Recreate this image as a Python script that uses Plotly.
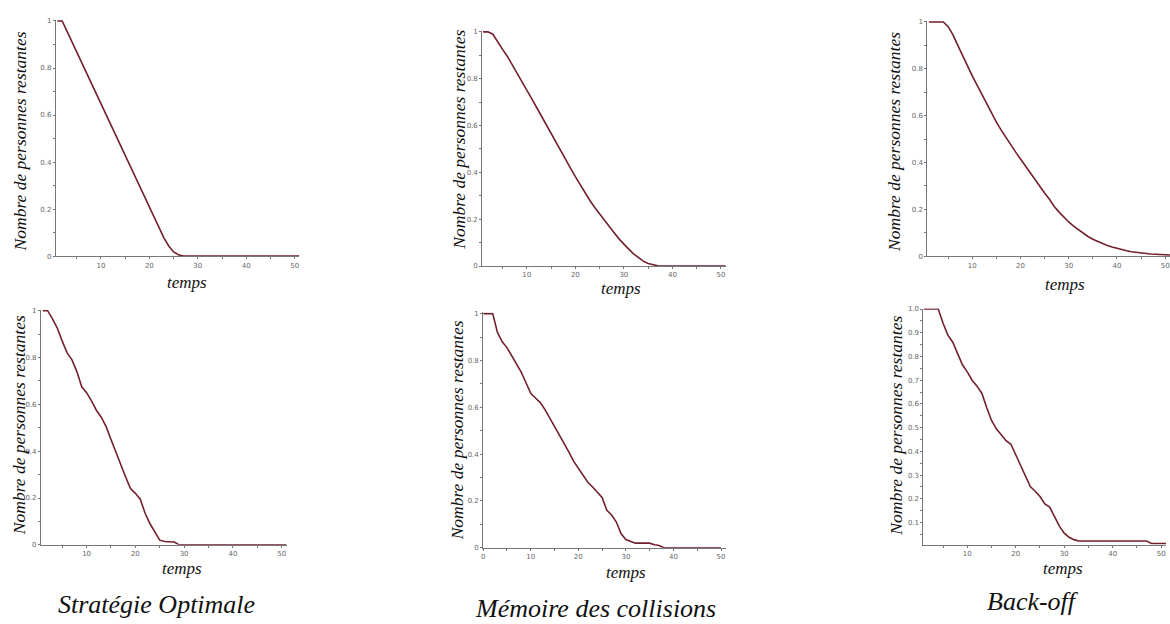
import plotly.graph_objects as go

# time steps
t_1_51 = list(range(1, 52))
t_0_50 = list(range(0, 51))

# remaining fraction of people — averaged runs (top row)
opt_avg = [1, 1, 0.956, 0.912, 0.868, 0.824, 0.780, 0.735, 0.691, 0.647, 0.603,
           0.559, 0.515, 0.471, 0.427, 0.383, 0.339, 0.294, 0.250, 0.206, 0.162,
           0.118, 0.078, 0.043, 0.018, 0.006, 0, 0, 0, 0, 0,
           0, 0, 0, 0, 0, 0, 0, 0, 0, 0,
           0, 0, 0, 0, 0, 0, 0, 0, 0, 0]
mem_avg = [1, 1, 0.99, 0.955, 0.925, 0.895, 0.86, 0.825, 0.79, 0.752, 0.715,
           0.678, 0.64, 0.603, 0.567, 0.53, 0.49, 0.455, 0.418, 0.382, 0.347,
           0.313, 0.28, 0.25, 0.222, 0.195, 0.168, 0.142, 0.116, 0.093, 0.072,
           0.052, 0.035, 0.021, 0.011, 0.005, 0.001, 0, 0, 0, 0,
           0, 0, 0, 0, 0, 0, 0, 0, 0, 0]
bo_avg = [1, 1, 1, 1, 0.98, 0.945, 0.9, 0.855, 0.81, 0.77, 0.73,
          0.69, 0.65, 0.61, 0.572, 0.538, 0.505, 0.474, 0.444, 0.415, 0.385,
          0.356, 0.327, 0.299, 0.27, 0.243, 0.212, 0.188, 0.166, 0.146, 0.128,
          0.112, 0.097, 0.084, 0.072, 0.062, 0.053, 0.045, 0.039, 0.033, 0.028,
          0.023, 0.019, 0.016, 0.013, 0.011, 0.009, 0.008, 0.007, 0.006, 0.005]

# remaining fraction of people — single run (bottom row)
opt_run = [1, 1, 0.965, 0.925, 0.87, 0.82, 0.79, 0.74, 0.675, 0.65, 0.615,
           0.575, 0.545, 0.505, 0.45, 0.395, 0.34, 0.29, 0.24, 0.22, 0.195,
           0.135, 0.09, 0.055, 0.02, 0.014, 0.014, 0.012, 0, 0, 0,
           0, 0, 0, 0, 0, 0, 0, 0, 0, 0,
           0, 0, 0, 0, 0, 0, 0, 0, 0, 0]
mem_run = [1, 1, 1, 0.92, 0.88, 0.855, 0.82, 0.785, 0.75, 0.705, 0.66,
           0.64, 0.62, 0.59, 0.555, 0.52, 0.485, 0.45, 0.41, 0.37, 0.34,
           0.31, 0.28, 0.26, 0.235, 0.215, 0.16, 0.14, 0.11, 0.06, 0.035,
           0.027, 0.02, 0.02, 0.02, 0.02, 0.013, 0.01, 0, 0, 0,
           0, 0, 0, 0, 0, 0, 0, 0, 0, 0]
bo_run = [1, 1, 1, 1, 0.94, 0.89, 0.86, 0.815, 0.765, 0.735, 0.7,
          0.675, 0.645, 0.585, 0.53, 0.495, 0.47, 0.445, 0.43, 0.385, 0.34,
          0.295, 0.252, 0.232, 0.21, 0.178, 0.165, 0.125, 0.085, 0.055, 0.038,
          0.028, 0.022, 0.022, 0.022, 0.022, 0.022, 0.022, 0.022, 0.022, 0.022,
          0.022, 0.022, 0.022, 0.022, 0.022, 0.022, 0.012, 0.012, 0.012, 0.012]

x_ticks = [10, 20, 30, 40, 50]
x_ticklabels = ["10", "20", "30", "40", "50"]
x_ticks_zero = [0, 10, 20, 30, 40, 50]
x_ticklabels_zero = ["0", "10", "20", "30", "40", "50"]
y_ticks = [0, 0.2, 0.4, 0.6, 0.8, 1]
y_ticklabels = ["0", "0.2", "0.4", "0.6", "0.8", "1"]
y_ticks_fine = [0.1, 0.2, 0.3, 0.4, 0.5, 0.6, 0.7, 0.8, 0.9, 1.0]
y_ticklabels_fine = ["0.1", "0.2", "0.3", "0.4", "0.5", "0.6", "0.7", "0.8", "0.9", "1.0"]

titles = ["Stratégie Optimale", "Mémoire des collisions", "Back-off"]
y_title = "Nombre de personnes restantes"
x_title = "temps"

W, H = 1170, 624
LINE = "#72202c"
AXIS = "#777777"
SERIF = "Liberation Serif, DejaVu Serif, serif"

# panel boxes in pixels: left, right, top, bottom
panels = [
    dict(x=t_1_51, y=opt_avg, box=(54, 298, 17, 256), xr=[0.7, 51], yr=[0, 1.005],
         xt=(x_ticks, x_ticklabels), yt=(y_ticks, y_ticklabels),
         ytitle=(18, 140), xtitle=(185, 283)),
    dict(x=t_1_51, y=mem_avg, box=(481, 725, 28, 266), xr=[0.8, 51], yr=[0, 1.005],
         xt=(x_ticks, x_ticklabels), yt=(y_ticks, y_ticklabels),
         ytitle=(458, 138), xtitle=(620, 289)),
    dict(x=t_1_51, y=bo_avg, box=(927, 1170, 18, 256), xr=[0.7, 51], yr=[0, 1.005],
         xt=(x_ticks, x_ticklabels), yt=(y_ticks, y_ticklabels),
         ytitle=(894, 140), xtitle=(1065, 285)),
    dict(x=t_1_51, y=opt_run, box=(39, 285, 310, 548), xr=[0.63, 51], yr=[0, 1.005],
         xt=(x_ticks, x_ticklabels), yt=(y_ticks, y_ticklabels),
         ytitle=(17, 427), xtitle=(180, 572)),
    dict(x=t_0_50, y=mem_run, box=(482, 725, 313, 551), xr=[0, 51], yr=[0, 1.005],
         xt=(x_ticks_zero, x_ticklabels_zero), yt=(y_ticks, y_ticklabels),
         ytitle=(456, 432), xtitle=(625, 576)),
    dict(x=t_1_51, y=bo_run, box=(923, 1166, 309, 548), xr=[0.95, 51], yr=[0.006, 1.002],
         xt=(x_ticks, x_ticklabels), yt=(y_ticks_fine, y_ticklabels_fine),
         ytitle=(896, 427), xtitle=(1063, 572)),
]

fig = go.Figure()
annotations = []

for i, p in enumerate(panels, start=1):
    xa = "x" if i == 1 else f"x{i}"
    ya = "y" if i == 1 else f"y{i}"
    fig.add_trace(go.Scatter(x=p["x"], y=p["y"], mode="lines",
                             line=dict(color=LINE, width=1.6),
                             xaxis=xa, yaxis=ya, showlegend=False,
                             hoverinfo="skip"))
    l, r, t, b = p["box"]
    axis_common = dict(showline=True, linecolor=AXIS, linewidth=1,
                       showgrid=False, zeroline=False, ticks="outside",
                       ticklen=2, tickcolor=AXIS, ticklabelstandoff=0,
                       tickfont=dict(family="DejaVu Sans", size=7, color="#666666"))
    xkey = "xaxis" if i == 1 else f"xaxis{i}"
    ykey = "yaxis" if i == 1 else f"yaxis{i}"
    fig.update_layout(**{
        xkey: dict(domain=[l / W, r / W], range=p["xr"], anchor=ya,
                   tickvals=p["xt"][0], ticktext=p["xt"][1],
                   minor=dict(dtick=5, tick0=0, ticks="outside", ticklen=2,
                              tickcolor=AXIS),
                   **axis_common),
        ykey: dict(domain=[1 - b / H, 1 - t / H], range=p["yr"], anchor=xa,
                   tickvals=p["yt"][0], ticktext=p["yt"][1],
                   minor=dict(dtick=0.1 if i != 6 else 0.05, tick0=0,
                              ticks="outside", ticklen=2, tickcolor=AXIS),
                   **axis_common),
    })
    yx, yy = p["ytitle"]
    annotations.append(dict(text=f"<i>{y_title}</i>", x=yx / W, y=1 - yy / H,
                            xref="paper", yref="paper", showarrow=False,
                            textangle=-90, xanchor="center", yanchor="middle",
                            font=dict(family=SERIF, size=17.5, color="#111111")))
    tx, ty = p["xtitle"]
    annotations.append(dict(text=f"<i>{x_title}</i>", x=tx / W, y=1 - ty / H,
                            xref="paper", yref="paper", showarrow=False,
                            xanchor="center", yanchor="middle",
                            font=dict(family=SERIF, size=17, color="#111111")))

# strategy names under the bottom row
for name, (cx, cy) in zip(titles, [(155, 608), (595, 612), (1033, 605)]):
    annotations.append(dict(text=f"<i>{name}</i>", x=cx / W, y=1 - cy / H,
                            xref="paper", yref="paper", showarrow=False,
                            xanchor="center", yanchor="middle",
                            font=dict(family=SERIF, size=26, color="#111111")))

fig.update_layout(width=W, height=H, margin=dict(l=0, r=0, t=0, b=0),
                  paper_bgcolor="white", plot_bgcolor="white",
                  annotations=annotations)

fig.write_html("out.html")
